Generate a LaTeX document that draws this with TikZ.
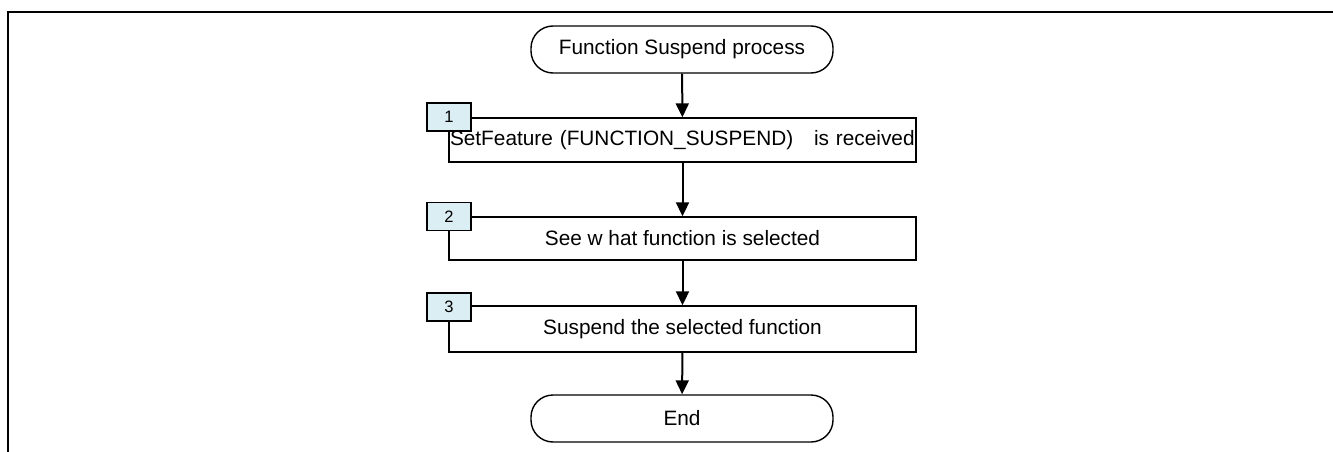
\documentclass[tikz,border=0pt]{standalone}
\usepackage{fontspec}
\setmainfont{Liberation Sans}
\usetikzlibrary{arrows.meta}
\definecolor{labelblue}{HTML}{DAEEF3}
\begin{document}
\begin{tikzpicture}[x=1pt,y=-1pt,
  every node/.style={font=\fontsize{20.8}{24}\selectfont},
  term/.style={draw,line width=1.4pt,rounded corners=22pt,minimum width=302pt,minimum height=47pt,inner sep=0pt},
  procbox/.style={draw,line width=1.4pt,minimum width=467pt,inner sep=0pt},
  numbox/.style={draw,line width=1.4pt,fill=labelblue,minimum width=44pt,minimum height=28pt,inner sep=0pt,font=\fontsize{16.5}{18}\selectfont},
  flow/.style={line width=2pt,-{Triangle[width=13pt,length=14pt]}},
  frameline/.style={line width=2.2pt}
]
\useasboundingbox (0,0) rectangle (1333,452);
\coordinate (ftl) at (8,12);
\coordinate (ftr) at (1333,12);
\coordinate (fbl) at (8,452);
\draw[frameline] (fbl) -- (ftl) -- (ftr);

\node[term] (start) at (682,49.5) {Function Suspend process};
\node[procbox,minimum height=44pt,text width=465pt,align=left,inner xsep=1pt] (b1) at (682.5,140) {SetFeature (FUNCTION\_SUSPEND)\ \ \ is received};
\node[procbox,minimum height=43pt] (b2) at (682.5,238.5) {See w hat function is selected};
\node[procbox,minimum height=46pt] (b3) at (682.5,329) {Suspend the selected function};
\node[term] (end) at (682,418.5) {End};

\node[numbox] (n1) at (449,117) {1};
\node[numbox] (n2) at (449,216.5) {2};
\node[numbox] (n3) at (449,307) {3};

\draw[flow] (start) -- (b1);
\draw[flow] (b1) -- (b2);
\draw[flow] (b2) -- (b3);
\draw[flow] (b3) -- (end);
\end{tikzpicture}
\end{document}
